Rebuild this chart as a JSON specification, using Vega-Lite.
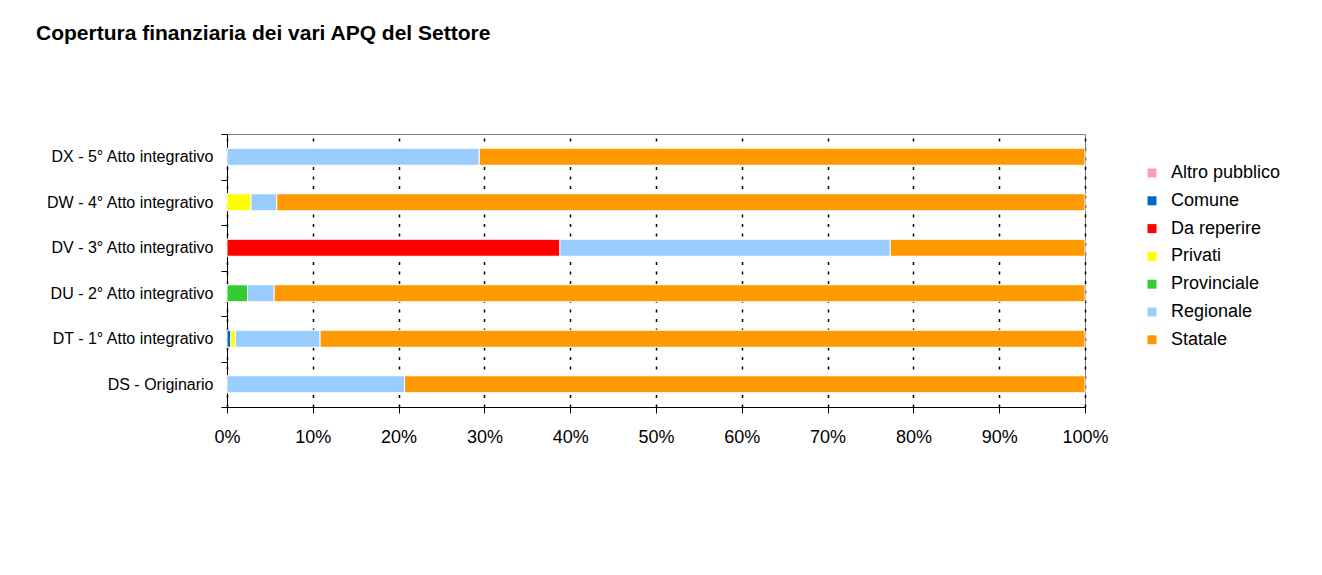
{
  "$schema": "https://vega.github.io/schema/vega-lite/v6.json",
  "autosize": {"type": "none"},
  "padding": {"left": 227, "top": 134, "right": 237, "bottom": 168},
  "width": 858,
  "height": 273,
  "background": "white",
  "config": {
    "font": "Liberation Sans",
    "view": {"stroke": "#808080", "strokeWidth": 1}
  },
  "title": {
    "text": "Copertura finanziaria dei vari APQ del Settore",
    "anchor": "start",
    "frame": "group",
    "orient": "top",
    "baseline": "alphabetic",
    "offset": 65,
    "dx": -191,
    "font": "Liberation Sans",
    "fontSize": 21,
    "fontWeight": "bold",
    "color": "black"
  },
  "data": {
    "values": [
      {"apq": "DS - Originario", "fonte": "Regionale", "pct": 20.7},
      {"apq": "DS - Originario", "fonte": "Statale", "pct": 79.3},
      {"apq": "DT - 1° Atto integrativo", "fonte": "Comune", "pct": 0.45},
      {"apq": "DT - 1° Atto integrativo", "fonte": "Privati", "pct": 0.55},
      {"apq": "DT - 1° Atto integrativo", "fonte": "Regionale", "pct": 9.85},
      {"apq": "DT - 1° Atto integrativo", "fonte": "Statale", "pct": 89.15},
      {"apq": "DU - 2° Atto integrativo", "fonte": "Provinciale", "pct": 2.4},
      {"apq": "DU - 2° Atto integrativo", "fonte": "Regionale", "pct": 3.1},
      {"apq": "DU - 2° Atto integrativo", "fonte": "Statale", "pct": 94.5},
      {"apq": "DV - 3° Atto integrativo", "fonte": "Da reperire", "pct": 38.8},
      {"apq": "DV - 3° Atto integrativo", "fonte": "Regionale", "pct": 38.5},
      {"apq": "DV - 3° Atto integrativo", "fonte": "Statale", "pct": 22.7},
      {"apq": "DW - 4° Atto integrativo", "fonte": "Privati", "pct": 2.8},
      {"apq": "DW - 4° Atto integrativo", "fonte": "Regionale", "pct": 3.0},
      {"apq": "DW - 4° Atto integrativo", "fonte": "Statale", "pct": 94.2},
      {"apq": "DX - 5° Atto integrativo", "fonte": "Regionale", "pct": 29.4},
      {"apq": "DX - 5° Atto integrativo", "fonte": "Statale", "pct": 70.6}
    ]
  },
  "mark": {"type": "bar", "size": 17, "stroke": "white", "strokeWidth": 1},
  "encoding": {
    "y": {
      "field": "apq",
      "type": "nominal",
      "sort": "descending",
      "title": null,
      "scale": {"paddingInner": 0, "paddingOuter": 0},
      "axis": {
        "domainColor": "black",
        "tickColor": "black",
        "tickBand": "extent",
        "tickSize": 6,
        "labelPadding": 8,
        "labelFontSize": 16,
        "labelColor": "black",
        "labelFont": "Liberation Sans",
        "grid": false
      }
    },
    "x": {
      "field": "pct",
      "type": "quantitative",
      "stack": "normalize",
      "title": null,
      "scale": {"domain": [0, 1]},
      "axis": {
        "values": [0, 0.1, 0.2, 0.3, 0.4, 0.5, 0.6, 0.7, 0.8, 0.9, 1],
        "format": ".0%",
        "labelFlush": false,
        "domainColor": "black",
        "tickColor": "black",
        "tickSize": 6,
        "labelPadding": 15,
        "labelFontSize": 18,
        "labelColor": "black",
        "labelFont": "Liberation Sans",
        "grid": true,
        "gridColor": "black",
        "gridDash": [3, 6.5],
        "gridWidth": 1.5
      }
    },
    "color": {
      "field": "fonte",
      "type": "nominal",
      "title": null,
      "scale": {
        "domain": ["Altro pubblico", "Comune", "Da reperire", "Privati", "Provinciale", "Regionale", "Statale"],
        "range": ["#FF99CC", "#0066CC", "#FF0000", "#FFFF00", "#33CC33", "#99CCFF", "#FF9900"]
      },
      "legend": {
        "orient": "none",
        "legendX": 916,
        "legendY": 30,
        "padding": 0,
        "symbolType": "square",
        "symbolSize": 81,
        "symbolStrokeWidth": 0,
        "labelFontSize": 18,
        "labelFont": "Liberation Sans",
        "labelColor": "black",
        "labelOffset": 10,
        "rowPadding": 9.8,
        "labelLimit": 300
      }
    },
    "order": {"field": "fonte", "sort": "ascending"}
  }
}
